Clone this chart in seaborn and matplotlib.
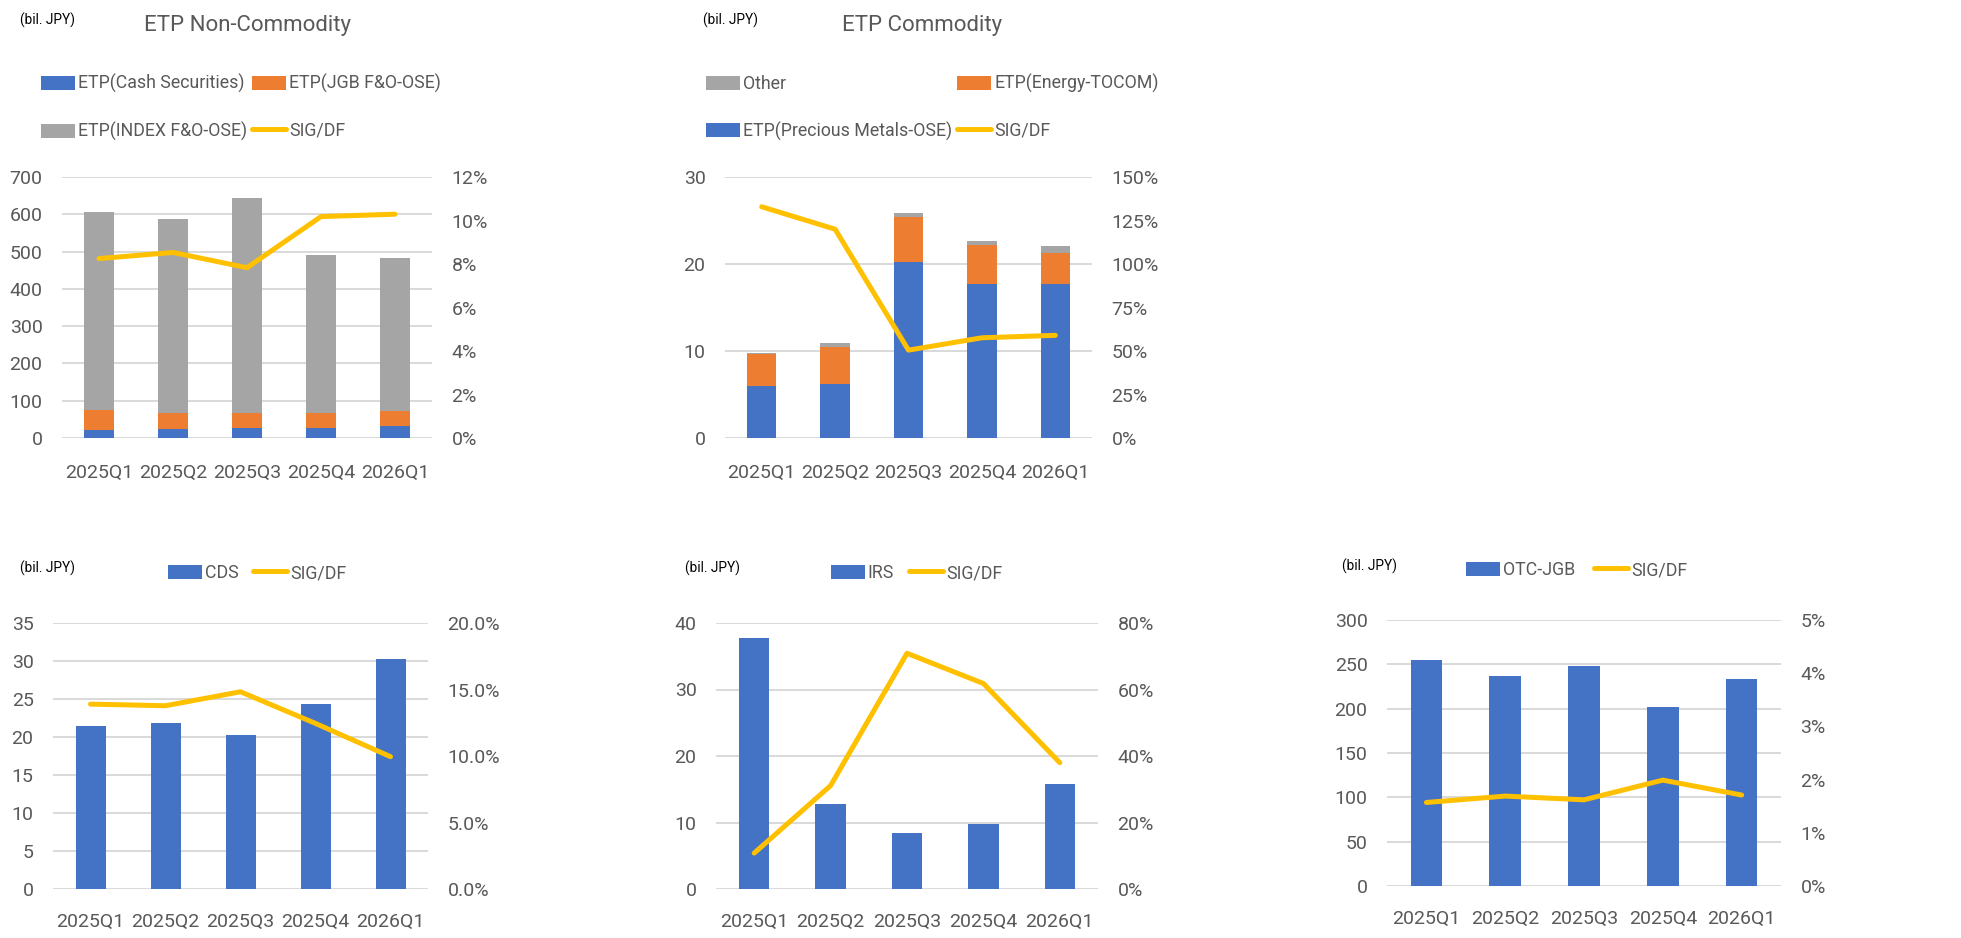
import numpy as np
import pandas as pd
import seaborn as sns
import matplotlib.pyplot as plt
from matplotlib.patches import Patch
from matplotlib.lines import Line2D
from matplotlib.ticker import PercentFormatter


# data (bil. JPY, SIG/DF as ratio)
quarters = ['2025Q1', '2025Q2', '2025Q3', '2025Q4', '2026Q1']

cash_sec = [22, 24, 26, 28, 33]
jgb_fo = [54, 42, 40, 38, 39]
index_fo = [531, 521, 577, 426, 410]
sig_noncomm = [0.0825, 0.0853, 0.0783, 0.1018, 0.1029]

precious = [5.95, 6.15, 20.2, 17.67, 17.67]
energy = [3.65, 4.34, 5.19, 4.5, 3.57]
other_comm = [0.16, 0.38, 0.51, 0.5, 0.81]
sig_comm = [1.329, 1.20, 0.505, 0.576, 0.59]

cds = [21.5, 21.8, 20.2, 24.3, 30.2]
sig_cds = [0.139, 0.1378, 0.1483, 0.1245, 0.0995]

irs = [37.8, 12.85, 8.45, 9.75, 15.75]
sig_irs = [0.108, 0.311, 0.709, 0.618, 0.38]

otc_jgb = [255.4, 236.6, 248.6, 201.75, 233.25]
sig_otc = [0.0157, 0.0169, 0.0162, 0.0199, 0.0171]


BLUE = '#4472C4'
ORANGE = '#ED7D31'
GREY = '#A5A5A5'
GOLD = '#FFC000'
TXT = '#595959'

sns.set_style('white')
plt.rcParams['font.family'] = ['Roboto', 'DejaVu Sans']
FS = 12.8      # legend text
TICK_FS = 14   # axis tick labels

W, H = 1961, 938
fig = plt.figure(figsize=(W / 100, H / 100), dpi=100)


def box(x0, y0, x1, y1):
    # pixel box -> figure fraction rect
    return [x0 / W, 1 - y1 / H, (x1 - x0) / W, (y1 - y0) / H]


def make_panel(rect, layers, sig, ymax, ystep, pmax, pstep, pdec, xpad):
    ax = fig.add_axes(rect)
    # stacked bars: draw cumulative totals from the top layer down
    cum = np.cumsum(np.array([vals for vals, _ in layers], dtype=float), axis=0)
    for i in range(len(layers) - 1, -1, -1):
        sns.barplot(x=quarters, y=cum[i], color=layers[i][1], saturation=1,
                    width=0.4, linewidth=0, errorbar=None, ax=ax)
    ax.set_xlim(-0.5, len(quarters) - 0.5)
    ax.set_ylim(0, ymax)
    ax.set_yticks(np.arange(0, ymax + ystep / 2, ystep))
    ax.yaxis.grid(True, color='#D9D9D9', lw=1.4)
    ax.set_axisbelow(True)
    ax.set(xlabel='', ylabel='')

    ax2 = ax.twinx()
    sns.lineplot(x=np.arange(len(quarters)), y=sig, color=GOLD, lw=3.6,
                 ax=ax2, legend=False)
    ax2.set_ylim(0, pmax)
    ax2.set_yticks(np.arange(0, pmax + pstep / 2, pstep))
    ax2.yaxis.set_major_formatter(PercentFormatter(1.0, decimals=pdec))
    ax2.set(xlabel='', ylabel='')
    ax2.grid(False)

    for a in (ax, ax2):
        for s in a.spines.values():
            s.set_visible(False)
    ax.tick_params(axis='y', length=0, labelsize=TICK_FS, labelcolor=TXT, pad=14)
    ax.tick_params(axis='x', length=0, labelsize=TICK_FS, labelcolor=TXT, pad=xpad)
    ax2.tick_params(axis='y', length=0, labelsize=TICK_FS, labelcolor=TXT, pad=14)
    return ax


def bar_h(c):
    return Patch(facecolor=c, edgecolor='none')


def line_h():
    return Line2D([], [], color=GOLD, lw=3.6)


def put_legend(handles, labels, x, y, ncol, colspace):
    fig.legend(handles, labels, loc='upper left', bbox_to_anchor=(x / W, 1 - y / H),
               ncol=ncol, frameon=False, fontsize=FS, labelcolor=TXT,
               borderpad=0, borderaxespad=0, handlelength=1.9, handleheight=0.84,
               handletextpad=0.17, labelspacing=1.62, columnspacing=colspace)


def unit_label(x, y):
    fig.text(x / W, 1 - y / H, '(bil. JPY)', fontsize=9.8, color='black', va='center')


# ETP Non-Commodity
make_panel(box(62, 177, 432, 438),
           [(cash_sec, BLUE), (jgb_fo, ORANGE), (index_fo, GREY)],
           sig_noncomm, 700, 100, 0.12, 0.02, 0, 19)
fig.text(248 / W, 1 - 25 / H, 'ETP Non-Commodity', fontsize=16, color=TXT,
         ha='center', va='center')
unit_label(20, 20)
put_legend([bar_h(BLUE), bar_h(GREY), bar_h(ORANGE), line_h()],
           ['ETP(Cash Securities)', 'ETP(INDEX F&O-OSE)', 'ETP(JGB F&O-OSE)', 'SIG/DF'],
           41, 74, 2, 0.3)

# ETP Commodity
make_panel(box(725, 177, 1092, 438),
           [(precious, BLUE), (energy, ORANGE), (other_comm, GREY)],
           sig_comm, 30, 10, 1.5, 0.25, 0, 19)
fig.text(922 / W, 1 - 25 / H, 'ETP Commodity', fontsize=16, color=TXT,
         ha='center', va='center')
unit_label(703, 20)
put_legend([bar_h(GREY), bar_h(BLUE), bar_h(ORANGE), line_h()],
           ['Other', 'ETP(Precious Metals-OSE)', 'ETP(Energy-TOCOM)', 'SIG/DF'],
           706, 74, 2, 0.3)

# CDS
make_panel(box(53, 623, 428, 889), [(cds, BLUE)], sig_cds,
           35, 5, 0.20, 0.05, 1, 17)
unit_label(20, 568)
put_legend([bar_h(BLUE), line_h()], ['CDS', 'SIG/DF'], 168, 564, 2, 0.84)

# IRS
make_panel(box(716, 623, 1098, 889), [(irs, BLUE)], sig_irs,
           40, 10, 0.80, 0.20, 0, 17)
unit_label(685, 568)
put_legend([bar_h(BLUE), line_h()], ['IRS', 'SIG/DF'], 831, 564, 2, 0.84)

# OTC-JGB
make_panel(box(1387, 620, 1781, 886), [(otc_jgb, BLUE)], sig_otc,
           300, 50, 0.05, 0.01, 0, 17)
unit_label(1342, 566)
put_legend([bar_h(BLUE), line_h()], ['OTC-JGB', 'SIG/DF'], 1466, 561, 2, 1.07)

fig.savefig('out.png', dpi=100)
